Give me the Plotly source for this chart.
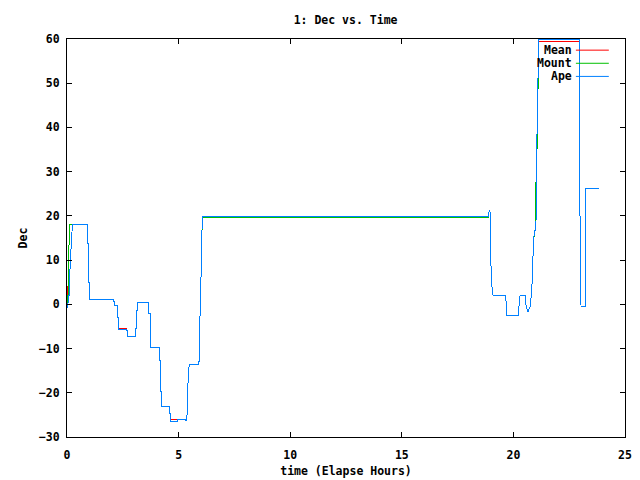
import plotly.graph_objects as go

# ---- data (hours, degrees) ----
ape_t = [0.0, 0.02, 0.05, 0.08, 0.1, 0.12, 0.15, 0.2, 0.24, 0.91, 0.91, 0.955, 0.955, 1.0, 1.0,
         2.07, 2.1, 2.15, 2.15, 2.25, 2.25, 2.3, 2.3, 2.67, 2.68, 2.73, 2.73, 3.08, 3.08, 3.12, 3.12,
         3.15, 3.15, 3.64, 3.64, 3.72, 3.72, 3.74, 4.14, 4.14, 4.18, 4.18, 4.23, 4.23, 4.58, 4.6,
         4.63, 4.63, 4.93, 4.93, 5.30, 5.32, 5.37, 5.39, 5.43, 5.48, 5.90, 5.92, 5.95, 5.99, 6.03,
         6.06, 18.89, 18.89, 18.95, 18.98, 19.0, 19.06, 19.1, 19.65, 19.67, 19.7, 20.22, 20.25,
         20.3, 20.52, 20.55, 20.6, 20.67, 20.7, 20.76, 20.83, 20.89, 20.94, 21.01, 21.02, 21.05,
         21.09, 21.13, 22.94, 22.96, 22.99, 23.03, 23.21, 23.22, 23.25, 23.85]
ape_dec = [-0.8, -0.8, 0.5, 2.1, 2.1, 6.0, 10.0, 14.0, 18.0, 18.0, 13.8, 13.8, 5.0, 5.0, 1.0,
           1.0, 0.6, 0.6, -0.15, -0.15, -2.9, -2.9, -5.6, -5.6, -6.0, -6.0, -7.2, -7.2, -5.4, -5.4, -1.4,
           -1.4, 0.5, 0.5, -2.0, -2.0, -7.2, -9.7, -9.7, -12.8, -12.8, -19.8, -19.8, -23.1, -23.1, -24.6,
           -24.6, -26.4, -26.4, -26.0, -26.0, -26.3, -26.3, -22.8, -16.5, -13.5, -13.5, -12.7, -4.3, 3.0, 11.8,
           19.9, 19.9, 20.8, 21.3, 16.8, 7.2, 2.5, 2.0, 2.0, 0.6, -2.6, -2.6, -0.5,
           2.0, 2.0, 0.2, -0.9, -1.8, -1.0, -0.5, 4.0, 12.5, 16.8, 16.8, 23.2, 36.2,
           47.0, 59.9, 59.9, 44.9, 14.5, -0.5, -0.5, 13.0, 26.2, 26.2]

mount_t = [0.0, 0.04, 0.05, 0.08, 0.1, 0.12, 0.24, 0.91, 0.91, 0.955, 0.955, 1.0, 1.0,
           2.07, 2.1, 2.15, 2.15, 2.25, 2.25, 2.3, 2.3, 2.67, 2.68, 2.73, 2.73, 3.08, 3.08, 3.12, 3.12,
           3.15, 3.15, 3.64, 3.64, 3.72, 3.72, 3.74, 4.14, 4.14, 4.18, 4.18, 4.23, 4.23, 4.58, 4.6,
           4.63, 4.63, 4.93, 4.93, 5.30, 5.32, 5.37, 5.39, 5.43, 5.48, 5.90, 5.92, 5.95, 5.99, 6.03,
           6.06, 18.89, 18.89, 18.95, 18.98, 19.0, 19.06, 19.1, 19.65, 19.67, 19.7, 20.22, 20.25,
           20.3, 20.52, 20.55, 20.6, 20.67, 20.7, 20.76, 20.83, 20.89, 20.94, 21.0, 21.0, 21.01,
           21.09, 21.12, 22.94, 22.96, 22.99, 23.03, 23.21, 23.22, 23.25, 23.85]
mount_dec = [0.0, 0.0, 4.0, 13.0, 14.0, 18.0, 18.0, 18.0, 13.8, 13.8, 5.0, 5.0, 1.0,
             1.0, 0.6, 0.6, -0.15, -0.15, -2.9, -2.9, -5.6, -5.6, -6.0, -6.0, -7.2, -7.2, -5.4, -5.4, -1.4,
             -1.4, 0.5, 0.5, -2.0, -2.0, -7.2, -9.7, -9.7, -12.8, -12.8, -19.8, -19.8, -23.1, -23.1, -24.6,
             -24.6, -26.4, -26.4, -26.0, -26.0, -26.3, -26.3, -22.8, -16.5, -13.5, -13.5, -12.7, -4.3, 3.0, 11.8,
             19.7, 19.7, 20.8, 21.3, 16.8, 7.2, 2.5, 2.0, 2.0, 0.6, -2.6, -2.6, -0.5,
             2.0, 2.0, 0.2, -0.9, -1.8, -1.0, -0.5, 4.0, 12.5, 16.6, 16.6, 23.2, 27.2,
             40.3, 59.8, 59.8, 44.9, 14.5, -0.5, -0.5, 13.0, 26.2, 26.2]

mean_t = [0.0, 0.03, 0.03, 0.06, 0.08, 0.1, 0.12, 0.15, 0.2, 0.24, 0.91, 0.91, 0.955, 0.955, 1.0, 1.0,
          2.07, 2.1, 2.15, 2.15, 2.25, 2.25, 2.3, 2.3, 2.67, 2.68, 2.73, 2.73, 3.08, 3.08, 3.12, 3.12,
          3.15, 3.15, 3.64, 3.64, 3.72, 3.72, 3.74, 4.14, 4.14, 4.18, 4.18, 4.23, 4.23, 4.58, 4.6,
          4.63, 4.63, 4.93, 4.93, 5.30, 5.32, 5.37, 5.39, 5.43, 5.48, 5.90, 5.92, 5.95, 5.99, 6.03,
          6.06, 18.89, 18.89, 18.95, 18.98, 19.0, 19.06, 19.1, 19.65, 19.67, 19.7, 20.22, 20.25,
          20.3, 20.52, 20.55, 20.6, 20.67, 20.7, 20.76, 20.83, 20.89, 20.94, 21.01, 21.02, 21.05,
          21.09, 21.13, 21.3, 22.94, 22.96, 22.99, 23.03, 23.21, 23.22, 23.25, 23.85]
mean_dec = [-0.4, -0.4, 4.0, 4.0, 2.1, 2.1, 6.0, 10.0, 14.0, 18.0, 18.0, 13.8, 13.8, 5.0, 5.0, 1.0,
            1.0, 0.6, 0.6, -0.15, -0.15, -2.9, -2.9, -5.4, -5.4, -6.0, -6.0, -7.2, -7.2, -5.4, -5.4, -1.4,
            -1.4, 0.5, 0.5, -2.0, -2.0, -7.2, -9.7, -9.7, -12.8, -12.8, -19.8, -19.8, -23.1, -23.1, -24.6,
            -24.6, -26.0, -26.0, -26.0, -26.0, -26.3, -26.3, -22.8, -16.5, -13.5, -13.5, -12.7, -4.3, 3.0, 11.8,
            19.8, 19.8, 20.8, 21.3, 16.8, 7.2, 2.5, 2.0, 2.0, 0.6, -2.6, -2.6, -0.5,
            2.0, 2.0, 0.2, -0.9, -1.8, -1.0, -0.5, 4.0, 12.5, 16.8, 16.8, 23.2, 36.2,
            47.0, 59.5, 59.5, 59.5, 44.9, 14.5, -0.5, -0.5, 13.0, 26.2, 26.2]

series_names = ["Mean", "Mount", "Ape"]
series_colors = ["#ff0000", "#00c000", "#0080ff"]
x_ticks = [0, 5, 10, 15, 20, 25]
y_ticks = [-30, -20, -10, 0, 10, 20, 30, 40, 50, 60]

FONT = "DejaVu Sans Mono"
FS = 11.5

fig = go.Figure()
for name, color, tx, ty in zip(series_names, series_colors,
                                [mean_t, mount_t, ape_t], [mean_dec, mount_dec, ape_dec]):
    fig.add_trace(go.Scatter(x=tx, y=ty, mode="lines", name=name,
                             line=dict(color=color, width=1, simplify=False), showlegend=False))

# gnuplot-style key: right-aligned labels followed by line samples
key_rows = [0.972, 0.939, 0.906]
for name, color, yk in zip(series_names, series_colors, key_rows):
    fig.add_annotation(x=0.909, y=yk, xref="paper", yref="paper", text=name,
                       showarrow=False, xanchor="right", yanchor="middle",
                       font=dict(family=FONT, size=FS, color="black", weight="bold"))
    fig.add_shape(type="line", xref="paper", yref="paper", x0=0.912, x1=0.971, y0=yk, y1=yk,
                  line=dict(color=color, width=1))

axis_common = dict(showgrid=False, zeroline=False, showline=True, linecolor="black", linewidth=1,
                   mirror="ticks", ticks="inside", ticklen=5, tickcolor="black", automargin=False,
                   tickfont=dict(family=FONT, size=FS, color="black", weight="bold"))

fig.update_layout(
    width=640, height=480,
    margin=dict(l=67, r=15, t=39, b=43),
    paper_bgcolor="white", plot_bgcolor="white",
    title=dict(text="1: Dec vs. Time", x=0.54, xanchor="center", y=0.958, yanchor="middle",
               font=dict(family=FONT, size=FS, color="black", weight="bold")),
    xaxis=dict(range=[0, 25], tickvals=x_ticks, ticklabelstandoff=7,
               title=dict(text="time (Elapse Hours)", standoff=6,
                          font=dict(family=FONT, size=FS, color="black", weight="bold")),
               **axis_common),
    yaxis=dict(range=[-30, 60], tickvals=y_ticks, ticklabelstandoff=4,
               title=dict(text="Dec", standoff=8,
                          font=dict(family=FONT, size=FS, color="black", weight="bold")),
               **axis_common),
)

fig.write_html(
    "out.html",
    post_script="var s=document.createElement('style');"
                "s.textContent='.js-line{shape-rendering:crispEdges}';"
                "document.head.appendChild(s);",
)
